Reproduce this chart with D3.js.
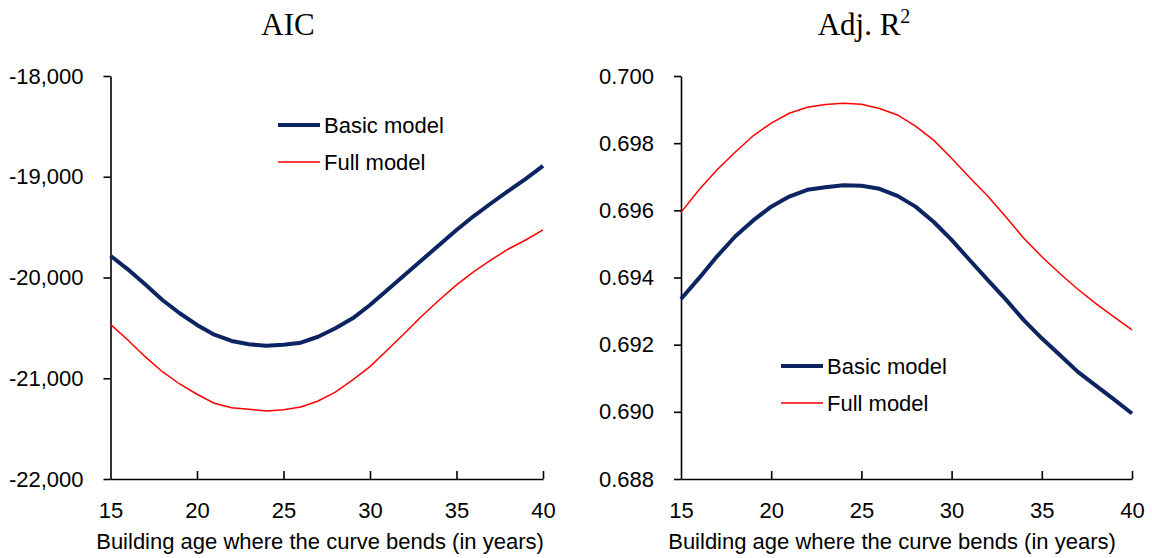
<!DOCTYPE html>
<html>
<head>
<meta charset="utf-8">
<script src="https://cdn.jsdelivr.net/npm/d3@7"></script>
<style>
  html, body { margin: 0; padding: 0; background: #fff; }
  svg { display: block; }
  .tick text, .lab { font-family: "Liberation Sans", Arial, sans-serif; fill: #000; }
  .ttl { font-family: "Liberation Serif", "Times New Roman", serif; fill: #000; }
</style>
</head>
<body>
<svg id="chart" width="1152" height="558"></svg>
<script>
// Break-point age (years) tried in the piecewise building-age curve
const years = [15, 16, 17, 18, 19, 20, 21, 22, 23, 24, 25, 26, 27, 28, 29, 30, 31, 32, 33, 34, 35, 36, 37, 38, 39, 40];

// AIC by break-point age
const aicBasic = [-19784, -19919, -20068, -20223, -20355, -20471, -20568, -20630, -20663, -20677, -20667, -20647, -20588,
                  -20504, -20405, -20273, -20124, -19975, -19826, -19677, -19528, -19390, -19263, -19141, -19022, -18893];
const aicFull  = [-20465, -20620, -20786, -20935, -21057, -21159, -21248, -21292, -21308, -21325, -21312, -21285, -21226,
                  -21137, -21017, -20885, -20720, -20554, -20382, -20223, -20074, -19942, -19826, -19717, -19628, -19528];

// Adjusted R-squared by break-point age
const r2Basic = [0.69336, 0.69398, 0.69463, 0.69522, 0.69570, 0.69611, 0.69641, 0.69661, 0.69669, 0.69675, 0.69673, 0.69664, 0.69643,
                 0.69611, 0.69566, 0.69512, 0.69452, 0.69393, 0.69335, 0.69273, 0.69219, 0.69169, 0.69119, 0.69078, 0.69037, 0.68995];
const r2Full  = [0.69594, 0.69661, 0.69721, 0.69773, 0.69822, 0.69860, 0.69889, 0.69907, 0.69915, 0.69919, 0.69916, 0.69903, 0.69884,
                 0.69851, 0.69809, 0.69755, 0.69698, 0.69643, 0.69581, 0.69517, 0.69462, 0.69412, 0.69365, 0.69322, 0.69283, 0.69244];

const xTicks = [15, 20, 25, 30, 35, 40];
const aicTicks = [-22000, -21000, -20000, -19000, -18000];
const r2Ticks = [0.688, 0.690, 0.692, 0.694, 0.696, 0.698, 0.700];
const seriesNames = ["Basic model", "Full model"];
const xTitle = "Building age where the curve bends (in years)";

const svg = d3.select("#chart");
const basicColor = "#0c2461";
const fullColor = "#ff0000";

// thousands separator with a plain hyphen for negatives
const commaFmt = d => d3.format(",")(d).replace("\u2212", "-");

function panel(opts) {
  const x = d3.scaleLinear().domain([15, 40]).range([opts.x0, opts.x1]);
  const y = d3.scaleLinear().domain(opts.domain).range([479, 76]);
  const g = svg.append("g");

  // title
  const t = g.append("text").attr("class", "ttl")
    .attr("x", opts.titleX).attr("y", 35)
    .attr("text-anchor", "middle").attr("font-size", 31);
  t.append("tspan").text(opts.title);
  if (opts.sup) {
    t.append("tspan").attr("font-size", 20).attr("dy", -12).text(opts.sup);
  }

  // y axis
  const ya = g.append("g").attr("transform", `translate(${opts.x0},0)`)
    .call(d3.axisLeft(y).tickValues(opts.ticks).tickFormat(opts.fmt).tickSize(7).tickSizeOuter(0).tickPadding(20));
  // x axis with inward ticks
  const xa = g.append("g").attr("transform", "translate(0,479)")
    .call(d3.axisBottom(x).tickValues(xTicks).tickFormat(d3.format("d")).tickSize(-8).tickSizeOuter(0).tickPadding(0));
  xa.selectAll(".tick text").attr("y", 0).attr("dy", 39);

  [ya, xa].forEach(a => {
    a.select(".domain").attr("stroke", "#000").attr("stroke-width", 1.6);
    a.selectAll(".tick line").attr("stroke", "#000").attr("stroke-width", 1.6);
    a.selectAll(".tick text").attr("font-size", 22).attr("font-family", "Liberation Sans, Arial, sans-serif");
  });
  xa.selectAll(".tick").filter(d => d === 15).select("line").remove();

  // axis title
  g.append("text").attr("class", "lab")
    .attr("x", opts.xTitleX).attr("y", 549)
    .attr("text-anchor", "middle").attr("font-size", 22)
    .text(xTitle);

  const line = d3.line().x((d, i) => x(years[i])).y(d => y(d));
  g.append("path").datum(opts.full).attr("d", line)
    .attr("fill", "none").attr("stroke", fullColor).attr("stroke-width", 1.5);
  g.append("path").datum(opts.basic).attr("d", line)
    .attr("fill", "none").attr("stroke", basicColor).attr("stroke-width", 4).attr("stroke-linejoin", "round");

  // legend
  const lg = g.append("g").attr("transform", `translate(${opts.legX},${opts.legY})`);
  seriesNames.forEach((name, i) => {
    const yy = i * 37;
    lg.append("line").attr("x1", 0).attr("x2", 42).attr("y1", yy).attr("y2", yy)
      .attr("stroke", i === 0 ? basicColor : fullColor).attr("stroke-width", i === 0 ? 4 : 1.5);
    lg.append("text").attr("class", "lab").attr("x", 46).attr("y", yy + 8)
      .attr("font-size", 22).text(name);
  });
}

panel({
  x0: 110.5, x1: 543, domain: [-22000, -18000], ticks: aicTicks, fmt: commaFmt,
  title: "AIC", titleX: 288, xTitleX: 320, basic: aicBasic, full: aicFull, legX: 278, legY: 125
});
panel({
  x0: 681, x1: 1132, domain: [0.688, 0.700], ticks: r2Ticks, fmt: d3.format(".3f"),
  title: "Adj. R", sup: "2", titleX: 864, xTitleX: 892, basic: r2Basic, full: r2Full, legX: 781, legY: 366
});
</script>
</body>
</html>
